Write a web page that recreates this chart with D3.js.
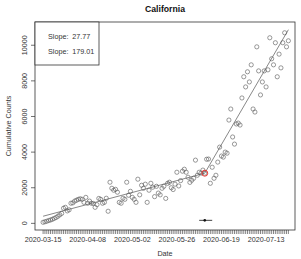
<!DOCTYPE html>
<html><head><meta charset="utf-8">
<script src="https://cdn.jsdelivr.net/npm/d3@7"></script>
<style>body{margin:0;background:#fff}svg{display:block;font-family:"Liberation Sans",Arial,sans-serif}</style>
</head><body><svg id="c" width="301" height="259"></svg>
<script>
const title = "California";
const startDate = "2020-03-15";
const counts = [60,90,120,160,190,230,280,330,400,480,560,850,900,700,760,1130,1150,1250,1300,1350,
1380,1350,1180,1460,1130,1250,1130,1120,900,1050,1400,1350,1130,1180,1410,680,2310,1970,1860,1910,
1750,1180,1130,1410,1350,2310,1580,1800,1460,1350,1180,2480,1600,2140,1970,2200,1180,1860,2250,2030,
1500,2080,1700,1600,1970,2080,1400,2250,2310,2000,1900,2200,2870,2100,2400,2930,3040,2870,2590,2300,
2420,2530,3550,2700,2870,2820,2990,2820,3600,3610,2250,3150,2530,2700,3440,4280,3780,3720,4000,3940,
5800,6420,4850,4450,5580,5630,5520,7040,8230,7660,8510,7940,8900,6420,6250,9910,8560,7210,7940,8560,
7660,8620,10420,9240,8900,10140,8230,9500,8730,10140,10700,9910,10250];
const slopes = [27.77, 179.01];
const breakIndex = 87;
const breakValue = 2817;
const breakCI = [84, 91];
const breakMarkerY = 170;
const xTickLabels = ["2020-03-15","2020-04-08","2020-05-02","2020-05-26","2020-06-19","2020-07-13"];
const yTicks = [0,2000,4000,6000,8000,10000];

const parse = d3.timeParse("%Y-%m-%d");
const t0 = parse(startDate);
const day = i => new Date(t0.getTime() + i*86400000);
const n = counts.length;
const data = counts.map((v,i)=>({date: day(i), v}));

const svg = d3.select("#c");
const L=35, R=295, T=22, B=230;
const x = d3.scaleTime().domain([day(-(n-1)*0.033), day((n-1)*1.027)]).range([L,R]);
const lineEnd = breakValue + slopes[1]*(n-1-breakIndex);
const lineStart = breakValue - slopes[0]*breakIndex;
const ymin = d3.min(counts), ymax = Math.max(d3.max(counts), lineEnd);
const padY = (ymax-ymin)*0.04;
const y = d3.scaleLinear().domain([ymin-padY, ymax+padY]).range([B,T]);

const fs = 7.2, col = "#333";
// y axis
const yg = svg.append("g");
yg.selectAll("line").data(yTicks).join("line")
  .attr("x1",L).attr("x2",L-4).attr("y1",d=>y(d)).attr("y2",d=>y(d))
  .attr("stroke",col).attr("stroke-width",0.7);
yg.selectAll("text").data(yTicks).join("text")
  .attr("transform",d=>`translate(${L-8},${y(d)}) rotate(-90)`)
  .attr("text-anchor","middle").attr("font-size",fs).attr("fill",col).text(d=>d3.format("d")(d));

// x axis
const xg = svg.append("g").attr("transform",`translate(0,${B})`);
xg.selectAll("line.t").data(data).join("line").attr("class","t")
  .attr("x1",d=>x(d.date)).attr("x2",d=>x(d.date)).attr("y1",0).attr("y2",4)
  .attr("stroke",col).attr("stroke-width",0.6);
xg.selectAll("text").data(xTickLabels).join("text")
  .attr("x",d=>x(parse(d))).attr("y",11.5).attr("text-anchor","middle")
  .attr("font-size",fs).attr("fill",col).text(d=>d);

// box
svg.append("rect").attr("x",L).attr("y",T).attr("width",R-L).attr("height",B-T)
  .attr("fill","none").attr("stroke",col).attr("stroke-width",0.8);

// title & labels
svg.append("text").attr("x",(L+R)/2).attr("y",12).attr("text-anchor","middle")
  .attr("font-size",8.7).attr("font-weight","bold").attr("fill","#111").text(title);
svg.append("text").attr("x",(L+R)/2).attr("y",256).attr("text-anchor","middle")
  .attr("font-size",fs).attr("fill",col).text("Date");
svg.append("text").attr("transform",`translate(10.5,${(T+B)/2}) rotate(-90)`).attr("text-anchor","middle")
  .attr("font-size",fs).attr("fill",col).text("Cumulative Counts");

// points
svg.append("g").selectAll("circle").data(data).join("circle")
  .attr("cx",d=>x(d.date)).attr("cy",d=>y(d.v)).attr("r",2.1)
  .attr("fill","none").attr("stroke","#555").attr("stroke-width",0.6);

// segmented fit
const seg = [[{d:0,v:lineStart},{d:breakIndex,v:breakValue}],[{d:breakIndex,v:breakValue},{d:n-1,v:lineEnd}]];
const ln = d3.line().x(p=>x(day(p.d))).y(p=>y(p.v));
svg.append("g").selectAll("path").data(seg).join("path").attr("d",ln)
  .attr("fill","none").attr("stroke","#555").attr("stroke-width",0.7);
svg.append("circle").attr("cx",x(day(breakIndex))).attr("cy",y(breakValue)).attr("r",3)
  .attr("fill","none").attr("stroke","#e8271f").attr("stroke-width",0.9);

// breakpoint CI
svg.append("line").attr("x1",x(day(breakCI[0]))).attr("x2",x(day(breakCI[1])))
  .attr("y1",y(breakMarkerY)).attr("y2",y(breakMarkerY)).attr("stroke","#111").attr("stroke-width",0.8);
svg.append("circle").attr("cx",x(day(breakIndex))).attr("cy",y(breakMarkerY)).attr("r",1.3).attr("fill","#111");

// legend
svg.append("rect").attr("x",L).attr("y",T).attr("width",64).attr("height",43)
  .attr("fill","#fff").attr("stroke",col).attr("stroke-width",0.8);
svg.append("g").selectAll("text").data(slopes).join("text")
  .attr("x",48).attr("y",(d,i)=>39+i*15).attr("font-size",fs).attr("fill",col)
  .attr("xml:space","preserve").style("white-space","pre").text(d=>"Slope:  "+d.toFixed(2));
</script></body></html>
